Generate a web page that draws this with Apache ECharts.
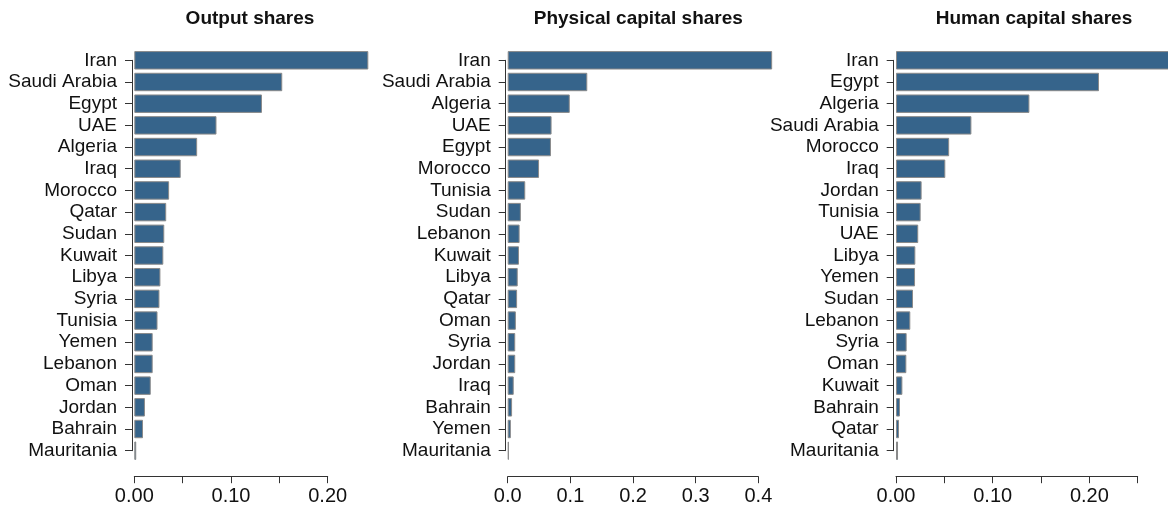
<!DOCTYPE html>
<html>
<head>
<meta charset="utf-8">
<script src="https://cdn.jsdelivr.net/npm/echarts@6/dist/echarts.min.js"></script>
<style>
html,body{margin:0;padding:0;background:#fff;}
#chart{width:1168px;height:508px;}
</style>
</head>
<body>
<div id="chart"></div>
<script>
// ---- data ----
var titles = ['Output shares', 'Physical capital shares', 'Human capital shares'];

var outputCountries = ['Iran','Saudi Arabia','Egypt','UAE','Algeria','Iraq','Morocco','Qatar','Sudan','Kuwait','Libya','Syria','Tunisia','Yemen','Lebanon','Oman','Jordan','Bahrain','Mauritania'];
var outputShares = [0.242,0.153,0.132,0.085,0.065,0.048,0.036,0.033,0.031,0.030,0.027,0.026,0.024,0.019,0.019,0.017,0.011,0.009,0.002];

var physicalCountries = ['Iran','Saudi Arabia','Algeria','UAE','Egypt','Morocco','Tunisia','Sudan','Lebanon','Kuwait','Libya','Qatar','Oman','Syria','Jordan','Iraq','Bahrain','Yemen','Mauritania'];
var physicalShares = [0.422,0.127,0.099,0.070,0.069,0.050,0.028,0.021,0.019,0.018,0.016,0.015,0.013,0.012,0.012,0.0096,0.007,0.005,0.002];

var humanCountries = ['Iran','Egypt','Algeria','Saudi Arabia','Morocco','Iraq','Jordan','Tunisia','UAE','Libya','Yemen','Sudan','Lebanon','Syria','Oman','Kuwait','Bahrain','Qatar','Mauritania'];
var humanShares = [0.283,0.210,0.138,0.078,0.055,0.051,0.0265,0.0255,0.023,0.020,0.0197,0.0176,0.0148,0.011,0.0107,0.0066,0.0041,0.0031,0.0021];

var axisMax = [0.20, 0.4, 0.25];
var axisStep = [0.05, 0.1, 0.05];
var labelStep = [0.10, 0.1, 0.10];
var labelDigits = [2, 1, 2];

// ---- layout ----
var FONT = '"Liberation Sans", Arial, Helvetica, sans-serif';
var zeroX = [134.3, 507.7, 896];
var pxPerUnit = [967, 626.7, 966.7];
var axisLineX = [132, 505.7, 893.7];
var titleX = [250, 638.3, 1034];
var firstTickY = 60.3, lastTickY = 450.7;
var nCat = 19;
var band = (lastTickY - firstTickY) / (nCat - 1);
var barTop = firstTickY - band / 2;
var barH = band * nCat;
var xAxisY = 476.7;

var categoriesList = [outputCountries, physicalCountries, humanCountries];
var valuesList = [outputShares, physicalShares, humanShares];

var option = {
  backgroundColor: '#fff',
  animation: false,
  textStyle: { fontFamily: FONT },
  title: [], grid: [], xAxis: [], yAxis: [], series: []
};

for (var p = 0; p < 3; p++) {
  (function (p) {
    option.title.push({
      text: titles[p], left: titleX[p], top: 9, textAlign: 'center', padding: 0,
      textStyle: { fontFamily: FONT, fontSize: 19, fontWeight: 'bold', color: '#111' }
    });
    // bar grid
    option.grid.push({
      left: zeroX[p], top: barTop, width: axisMax[p] * pxPerUnit[p], height: barH,
      containLabel: false, outerBoundsMode: 'none'
    });
    // y-axis-only grid
    option.grid.push({
      left: axisLineX[p], top: firstTickY, width: 10, height: lastTickY - firstTickY,
      containLabel: false, outerBoundsMode: 'none'
    });
    var gBar = p * 2, gAx = p * 2 + 1;
    option.xAxis.push({
      type: 'value', gridIndex: gBar, min: 0, max: axisMax[p], interval: axisStep[p],
      position: 'bottom', offset: xAxisY - (barTop + barH),
      axisLine: { show: true, lineStyle: { color: '#333', width: 1 } },
      axisTick: { show: true, length: 6.5, lineStyle: { color: '#333', width: 1 } },
      splitLine: { show: false },
      axisLabel: {
        show: true, margin: 10, fontSize: 20, fontFamily: FONT, color: '#111',
        showMinLabel: true, showMaxLabel: true, hideOverlap: false,
        formatter: function (v) {
          var r = v / labelStep[p];
          return Math.abs(r - Math.round(r)) < 1e-6 ? v.toFixed(labelDigits[p]) : '';
        }
      }
    });
    option.xAxis.push({
      type: 'value', gridIndex: gAx, min: 0, max: 1, show: false
    });
    option.yAxis.push({
      type: 'category', gridIndex: gBar, data: categoriesList[p], inverse: true,
      show: false
    });
    option.yAxis.push({
      type: 'category', gridIndex: gAx, data: categoriesList[p], inverse: true,
      boundaryGap: false,
      axisLine: { show: true, lineStyle: { color: '#333', width: 1 } },
      axisTick: { show: true, length: 7, interval: 0, lineStyle: { color: '#333', width: 1 } },
      axisLabel: { show: true, interval: 0, margin: 15, fontSize: 19, fontFamily: FONT, color: '#111' },
      splitLine: { show: false }
    });
    option.series.push({
      type: 'bar', xAxisIndex: p * 2, yAxisIndex: p * 2,
      data: valuesList[p], barWidth: '85%', clip: false,
      itemStyle: { color: '#36648B', borderColor: '#8a8a8a', borderWidth: 1 },
      emphasis: { disabled: true }
    });
  })(p);
}

var chart = echarts.init(document.getElementById('chart'), null, { renderer: 'canvas' });
chart.setOption(option);
</script>
</body>
</html>
